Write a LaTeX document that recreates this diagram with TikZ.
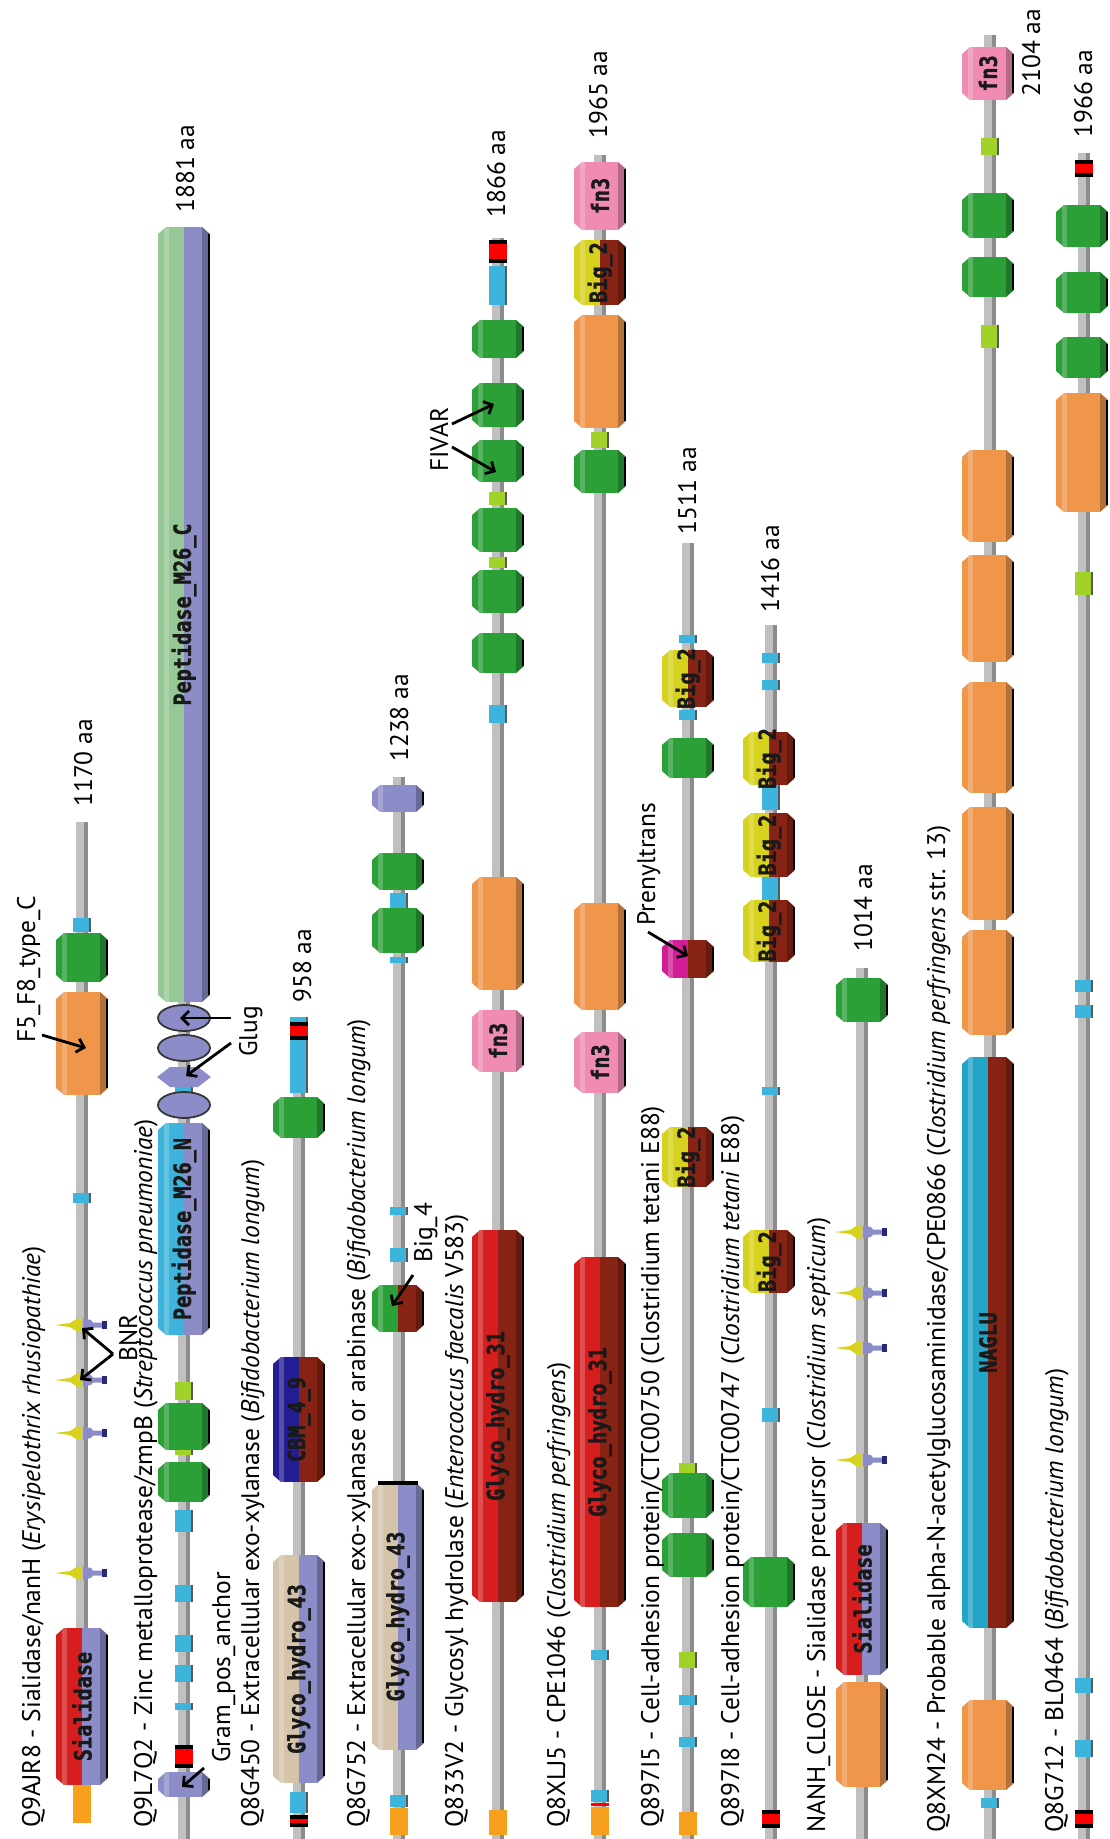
\documentclass[tikz,border=0pt]{standalone}
\usepackage{fontspec}
\setmainfont{PT Sans}
\newfontfamily\domfont[FakeStretch=0.85, BoldFeatures={FakeBold=1.5}]{DejaVu Sans Mono}
\usetikzlibrary{arrows.meta}

\definecolor{bbone}{RGB}{192,192,192}
\definecolor{bbonedark}{RGB}{140,140,140}
\definecolor{orng}{RGB}{240,150,75}
\definecolor{sigor}{RGB}{247,160,30}
\definecolor{grn}{RGB}{42,160,55}
\definecolor{cyn}{RGB}{60,180,220}
\definecolor{limegr}{RGB}{160,210,40}
\definecolor{domred}{RGB}{215,30,30}
\definecolor{dkred}{RGB}{135,35,20}
\definecolor{lav}{RGB}{140,140,200}
\definecolor{ltgrn}{RGB}{150,200,150}
\definecolor{beige}{RGB}{212,196,170}
\definecolor{dkblue}{RGB}{35,30,150}
\definecolor{pinky}{RGB}{240,140,180}
\definecolor{yel}{RGB}{215,210,30}
\definecolor{mag}{RGB}{210,30,150}
\definecolor{teal}{RGB}{35,165,200}
\definecolor{navy}{RGB}{40,40,120}

\tikzset{
  domlabel/.style={rotate=90, inner sep=0pt, text=black!90,
    font=\domfont\bfseries\fontsize{13.5}{13.5}\selectfont},
  protlabel/.style={rotate=90, anchor=base west, inner sep=0pt,
    font=\fontsize{14.5}{16}\selectfont},
  pointer/.style={line width=1.6pt, -{Straight Barb[length=4pt,width=8pt]}},
}

% batang protein: x, ujung atas, ujung bawah
\newcommand{\backbone}[3]{%
  \fill[bbone] (#1-6,#2) rectangle (#1+6,#3);
  \fill[bbonedark] (#1+2,#2) rectangle (#1+6,#3);}
% domain: x, y1, y2, warna kiri, warna kanan, teks
\newcommand{\dom}[6]{%
  \begin{scope}
    \clip (#1-26,#2+7) -- (#1-18,#2) -- (#1+18,#2) -- (#1+26,#2+7)
      -- (#1+26,#3-7) -- (#1+18,#3) -- (#1-18,#3) -- (#1-26,#3-7) -- cycle;
    \fill[#4] (#1-26,#2) rectangle (#1,#3);
    \fill[#5] (#1,#2) rectangle (#1+26,#3);
    \fill[white, opacity=.22] (#1-20,#2) rectangle (#1-15,#3);
    \fill[black, opacity=.25] (#1+18,#2) rectangle (#1+26,#3);
    \fill[black] (#1+24,#2+7) rectangle (#1+26,#3-7);
  \end{scope}
  \node[domlabel] (d#1-#2) at (#1,{(#2+#3)/2}) {#6};}
% kotak kecil: x, y1, y2, warna
\newcommand{\blok}[4]{%
  \fill[#4] (#1-9,#2) rectangle (#1+9,#3);
  \fill[black!65] (#1+7,#2) rectangle (#1+9,#3);}
% segmen transmembran (hitam-merah-hitam)
\newcommand{\tm}[3]{%
  \fill[black] (#1-9,#2) rectangle (#1+9,#3);
  \fill[red] (#1-9,#2+4) rectangle (#1+9,#3-4);}
% motif kecil (BNR)
\newcommand{\motif}[2]{%
  \fill[yel] (#1-27,#2) -- (#1-12,#2-2) -- (#1-5,#2-6.5) -- (#1,#2-6.5)
    -- (#1,#2+6.5) -- (#1-5,#2+6.5) -- (#1-12,#2+2) -- cycle;
  \fill[lav] (#1+1,#2-6.5) -- (#1+9,#2-5) -- (#1+11,#2-2.5) -- (#1+20,#2-2.5)
    -- (#1+20,#2+2.5) -- (#1+11,#2+2.5) -- (#1+9,#2+5) -- (#1+1,#2+6.5) -- cycle;
  \fill[navy] (#1+20,#2-4) rectangle (#1+25,#2+4);}

\begin{document}
\begin{tikzpicture}[x=0.02cm, y=-0.02cm]
  \useasboundingbox (0,0) rectangle (1109,1839);
  \fill[white] (0,0) rectangle (1109,1839);

  % Q9AJR8
  \backbone{82}{822}{1823}
  \fill[sigor] (73,1785) rectangle (91,1823);
  \dom{82}{1628}{1785}{domred}{lav}{Sialidase}
  \foreach \y in {1325,1380,1433,1573} {\motif{82}{\y}}
  \blok{82}{1193}{1203}{cyn}
  \dom{82}{992}{1095}{orng}{orng}{}
  \dom{82}{933}{982}{grn}{grn}{}
  \blok{82}{918}{932}{cyn}
  \node[protlabel] (lab1) at (40,1828) {Q9AJR8 - Sialidase/nanH (\textit{Erysipelothrix rhusiopathiae})};
  \node[protlabel] (len1) at (92,807) {1170 aa};
  \node[protlabel] (f5lab) at (35,1043) {F5\_F8\_type\_C};
  \coordinate (f5a) at (42,1035);
  \coordinate (f5b) at (86,1048);
  \draw[pointer] (f5a) -- (f5b);
  \node[protlabel] (bnrlab) at (137,1362) {BNR};
  \coordinate (bnr) at (113,1354);
  \coordinate (bnr1) at (82,1328);
  \coordinate (bnr2) at (80,1380);
  \draw[pointer] (bnr) -- (bnr1);
  \draw[pointer] (bnr) -- (bnr2);

  % Q9L7Q2
  \backbone{184}{227}{1839}
  \dom{184}{1772}{1797}{lav}{lav}{}
  \tm{184}{1745}{1768}
  \foreach \a/\b in {1703/1710, 1665/1682, 1635/1652, 1585/1602, 1510/1532}
    {\blok{184}{\a}{\b}{cyn}}
  \blok{184}{1445}{1455}{limegr}
  \blok{184}{1382}{1400}{limegr}
  \dom{184}{1462}{1502}{grn}{grn}{}
  \dom{184}{1403}{1450}{grn}{grn}{}
  \dom{184}{1123}{1335}{cyn}{lav}{Peptidase\_M26\_N}
  \blok{184}{1087}{1095}{cyn}
  \foreach \y in {1105,1048,1018}
    {\filldraw[fill=lav, draw=black!80, line width=1pt] (184,\y) ellipse [x radius=26, y radius=13];}
  \fill[lav] (157,1077) -- (170,1067) -- (198,1067) -- (211,1077) -- (198,1087) -- (170,1087) -- cycle;
  \dom{184}{227}{1002}{ltgrn}{lav}{Peptidase\_M26\_C}
  \node[protlabel] (lab2) at (152,1828) {Q9L7Q2 - Zinc metalloprotease/zmpB (\textit{Streptococcus pneumoniae})};
  \node[protlabel] (len2) at (194,213) {1881 aa};
  \node[protlabel] (gluglab) at (257,1057) {Glug};
  \coordinate (glug1a) at (231,1018);
  \coordinate (glug1b) at (180,1018);
  \coordinate (glug2a) at (231,1043);
  \coordinate (glug2b) at (186,1076);
  \draw[pointer] (glug1a) -- (glug1b);
  \draw[pointer] (glug2a) -- (glug2b);
  \node[protlabel] (gplab) at (230,1763) {Gram\_pos\_anchor};
  \coordinate (gpa) at (204,1768);
  \coordinate (gpb) at (182,1787);
  \draw[pointer] (gpa) -- (gpb);

  % Q8G450
  \backbone{299}{1017}{1839}
  \tm{299}{1815}{1827}
  \blok{299}{1792}{1813}{cyn}
  \dom{299}{1555}{1783}{beige}{lav}{Glyco\_hydro\_43}
  \dom{299}{1357}{1482}{dkblue}{dkred}{CBM\_4\_9}
  \dom{299}{1097}{1138}{grn}{grn}{}
  \blok{299}{1017}{1093}{cyn}
  \tm{299}{1022}{1040}
  \node[protlabel] (lab3) at (259,1828) {Q8G450 - Extracellular exo-xylanase (\textit{Bifidobacterium longum})};
  \node[protlabel] (len3) at (311,1003) {958 aa};

  % Q8G752
  \backbone{399}{777}{1839}
  \fill[sigor] (390,1808) rectangle (408,1835);
  \blok{399}{1795}{1807}{cyn}
  \dom{398}{1483}{1750}{beige}{lav}{Glyco\_hydro\_43}
  \fill[black] (378,1481) rectangle (418,1485);
  \dom{398}{1285}{1332}{grn}{dkred}{}
  \foreach \a/\b in {1248/1262, 1207/1215, 957/963, 893/908}
    {\blok{399}{\a}{\b}{cyn}}
  \dom{398}{908}{953}{grn}{grn}{}
  \dom{398}{853}{890}{grn}{grn}{}
  \dom{398}{785}{812}{lav}{lav}{}
  \node[protlabel] (lab4) at (365,1828) {Q8G752 - Extracellular exo-xylanase or arabinase (\textit{Bifidobacterium longum})};
  \node[protlabel] (len4) at (408,762) {1238 aa};
  \node[protlabel] (biglab) at (432,1263) {Big\_4};
  \coordinate (biga) at (413,1275);
  \coordinate (bigb) at (392,1306);
  \draw[pointer] (biga) -- (bigb);

  % Q833V2
  \backbone{498}{238}{1839}
  \fill[sigor] (489,1810) rectangle (507,1835);
  \dom{498}{1230}{1602}{domred}{dkred}{Glyco\_hydro\_31}
  \dom{498}{1010}{1072}{pinky}{pinky}{fn3}
  \dom{498}{877}{990}{orng}{orng}{}
  \blok{498}{705}{723}{cyn}
  \foreach \a/\b in {492/505, 557/568}
    {\blok{498}{\a}{\b}{limegr}}
  \foreach \a/\b in {633/673, 570/613, 508/552, 440/482, 383/427, 320/358}
    {\dom{498}{\a}{\b}{grn}{grn}{}}
  \blok{498}{266}{305}{cyn}
  \tm{498}{240}{263}
  \node[protlabel] (lab5) at (463,1828) {Q833V2 - Glycosyl hydrolase (\textit{Enterococcus faecalis} V583)};
  \node[protlabel] (len5) at (505,218) {1866 aa};
  \node[protlabel] (fivlab) at (448,472) {FIVAR};
  \coordinate (fiva) at (452,424);
  \coordinate (fivb) at (494,404);
  \coordinate (fivc) at (452,447);
  \coordinate (fivd) at (496,472);
  \draw[pointer] (fiva) -- (fivb);
  \draw[pointer] (fivc) -- (fivd);

  % Q8XLJ5
  \backbone{600}{155}{1839}
  \fill[sigor] (591,1807) rectangle (609,1835);
  \fill[red] (591,1803) rectangle (609,1806);
  \blok{600}{1790}{1802}{cyn}
  \blok{600}{1650}{1660}{cyn}
  \dom{600}{1257}{1607}{domred}{dkred}{Glyco\_hydro\_31}
  \dom{600}{1032}{1093}{pinky}{pinky}{fn3}
  \dom{600}{903}{1010}{orng}{orng}{}
  \dom{600}{450}{493}{grn}{grn}{}
  \blok{600}{432}{448}{limegr}
  \dom{600}{315}{428}{orng}{orng}{}
  \dom{600}{240}{305}{yel}{dkred}{Big\_2}
  \dom{600}{162}{230}{pinky}{pinky}{fn3}
  \node[protlabel] (lab6) at (565,1828) {Q8XLJ5 - CPE1046 (\textit{Clostridium perfringens})};
  \node[protlabel] (len6) at (607,139) {1965 aa};

  % Q897I5
  \backbone{688}{543}{1839}
  \fill[sigor] (679,1812) rectangle (697,1835);
  \foreach \a/\b in {1737/1747, 1695/1705, 710/720, 635/643}
    {\blok{688}{\a}{\b}{cyn}}
  \blok{688}{1652}{1668}{limegr}
  \blok{688}{1463}{1473}{limegr}
  \dom{688}{1533}{1577}{grn}{grn}{}
  \dom{688}{1473}{1518}{grn}{grn}{}
  \dom{688}{1127}{1187}{yel}{dkred}{Big\_2}
  \dom{688}{940}{978}{mag}{dkred}{}
  \dom{688}{738}{778}{grn}{grn}{}
  \dom{688}{650}{707}{yel}{dkred}{Big\_2}
  \node[protlabel] (lab7) at (659,1828) {Q897I5 - Cell-adhesion protein/CTC00750 (Clostridium tetani E88)};
  \node[protlabel] (len7) at (696,535) {1511 aa};
  \node[protlabel] (prlab) at (655,926) {Prenyltrans};
  \coordinate (pra) at (648,932);
  \coordinate (prb) at (688,956);
  \draw[pointer] (pra) -- (prb);

  % Q897I8
  \backbone{771}{625}{1839}
  \tm{771}{1810}{1828}
  \foreach \a/\b in {1408/1422, 1087/1095, 877/900, 785/810, 680/690, 653/663}
    {\blok{771}{\a}{\b}{cyn}}
  \dom{769}{1557}{1607}{grn}{grn}{}
  \foreach \a/\b in {1230/1293, 900/962, 813/877, 732/785}
    {\dom{769}{\a}{\b}{yel}{dkred}{Big\_2}}
  \node[protlabel] (lab8) at (739,1828) {Q897I8 - Cell-adhesion protein/CTC00747 (\textit{Clostridium tetani} E88)};
  \node[protlabel] (len8) at (779,613) {1416 aa};

  % NANH_CLOSE
  \backbone{862}{968}{1839}
  \dom{862}{1682}{1787}{orng}{orng}{}
  \dom{862}{1523}{1675}{domred}{lav}{Sialidase}
  \foreach \y in {1460,1348,1293,1232} {\motif{862}{\y}}
  \dom{862}{978}{1022}{grn}{grn}{}
  \node[protlabel] (lab9) at (825,1833) {NANH\_CLOSE - Sialidase precursor (\textit{Clostridium septicum})};
  \node[protlabel] (len9) at (872,952) {1014 aa};

  % Q8XM24
  \backbone{990}{35}{1839}
  \blok{990}{1798}{1808}{cyn}
  \dom{988}{1700}{1790}{orng}{orng}{}
  \dom{988}{1057}{1628}{teal}{dkred}{NAGLU}
  \foreach \a/\b in {930/1035, 807/920, 682/793, 555/662, 450/542}
    {\dom{988}{\a}{\b}{orng}{orng}{}}
  \blok{990}{325}{348}{limegr}
  \blok{990}{138}{155}{limegr}
  \dom{988}{257}{297}{grn}{grn}{}
  \dom{988}{193}{238}{grn}{grn}{}
  \dom{988}{47}{100}{pinky}{pinky}{fn3}
  \node[protlabel] (lab10) at (945,1833) {Q8XM24 - Probable alpha-N-acetylglucosaminidase/CPE0866 (\textit{Clostridium perfringens} str. 13)};
  \node[protlabel] (len10) at (1040,97) {2104 aa};

  % Q8G712
  \backbone{1084}{153}{1839}
  \tm{1084}{1810}{1828}
  \foreach \a/\b in {1740/1757, 1678/1693, 1005/1018, 980/992}
    {\blok{1084}{\a}{\b}{cyn}}
  \blok{1084}{572}{595}{limegr}
  \dom{1082}{393}{512}{orng}{orng}{}
  \foreach \a/\b in {337/378, 272/313, 205/247}
    {\dom{1082}{\a}{\b}{grn}{grn}{}}
  \tm{1084}{160}{177}
  \node[protlabel] (lab11) at (1063,1833) {Q8G712 - BL0464 (\textit{Bifidobacterium longum})};
  \node[protlabel] (len11) at (1092,138) {1966 aa};
\end{tikzpicture}
\end{document}
